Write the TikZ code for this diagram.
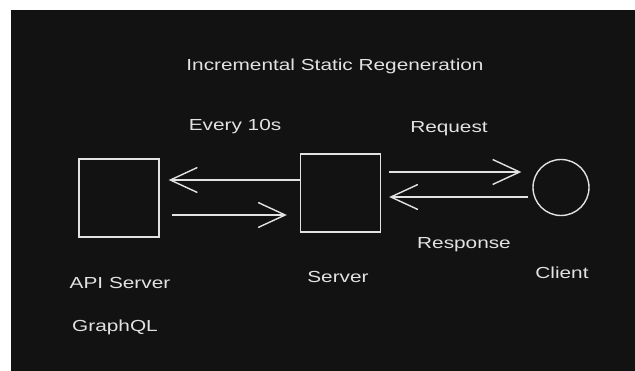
\documentclass[tikz,border=0pt]{standalone}
\usepackage{fontspec}
\setmainfont{Liberation Sans}[FakeStretch=1.3]
\usetikzlibrary{arrows.meta}
\definecolor{bgdark}{HTML}{121212}
\definecolor{ink}{HTML}{E2E2E2}
\begin{document}
\begin{tikzpicture}[x=1pt,y=-1pt,
  boxnode/.style={draw=ink,line width=1.4pt,minimum width=80pt,minimum height=78pt,inner sep=0pt},
  lbl/.style={text=ink,font=\fontsize{16}{19}\selectfont,inner sep=0pt},
  conn/.style={draw=ink,line width=1.6pt,-{Straight Barb[length=27pt,width=25pt,line width=1.4pt]}}
]
\useasboundingbox (0,0) rectangle (635,371);
\fill[white] (0,0) rectangle (635,371);
\fill[bgdark] (11,10) rectangle (635,371);

\node[boxnode] (api) at (119,198) {};
\node[boxnode] (server) at (340.5,193) {};
\node[draw=ink,line width=1.4pt,circle,minimum size=56pt,inner sep=0pt] (client) at (561,187.5) {};

\node[lbl] (title) at (335,66) {Incremental Static Regeneration};
\node[lbl] (every) at (235,127) {Every 10s};
\node[lbl] (req) at (449,129) {Request};
\node[lbl] (resp) at (464,245) {Response};
\node[lbl] (apil) at (120,283) {API Server};
\node[lbl] (gql) at (115,327) {GraphQL};
\node[lbl] (srvl) at (338,277) {Server};
\node[lbl] (clil) at (562,273) {Client};

\coordinate (a1) at ([xshift=9pt]api.east |- 0,180);
\coordinate (a2) at ([xshift=12pt]api.east |- 0,215);
\coordinate (a3) at ([xshift=-13pt]server.west |- 0,215);
\coordinate (s1) at ([xshift=8pt]server.east |- 0,172);
\coordinate (s2) at ([xshift=8pt]server.east |- 0,197);
\coordinate (c1) at ([xshift=-11pt]client.west |- 0,172);
\coordinate (c2) at ([xshift=-4pt]client.west |- 0,197);

\draw[conn] (server.west |- 0,180) -- (a1);
\draw[conn] (a2) -- (a3);
\draw[conn] (s1) -- (c1);
\draw[conn] (c2) -- (s2);
\end{tikzpicture}
\end{document}
